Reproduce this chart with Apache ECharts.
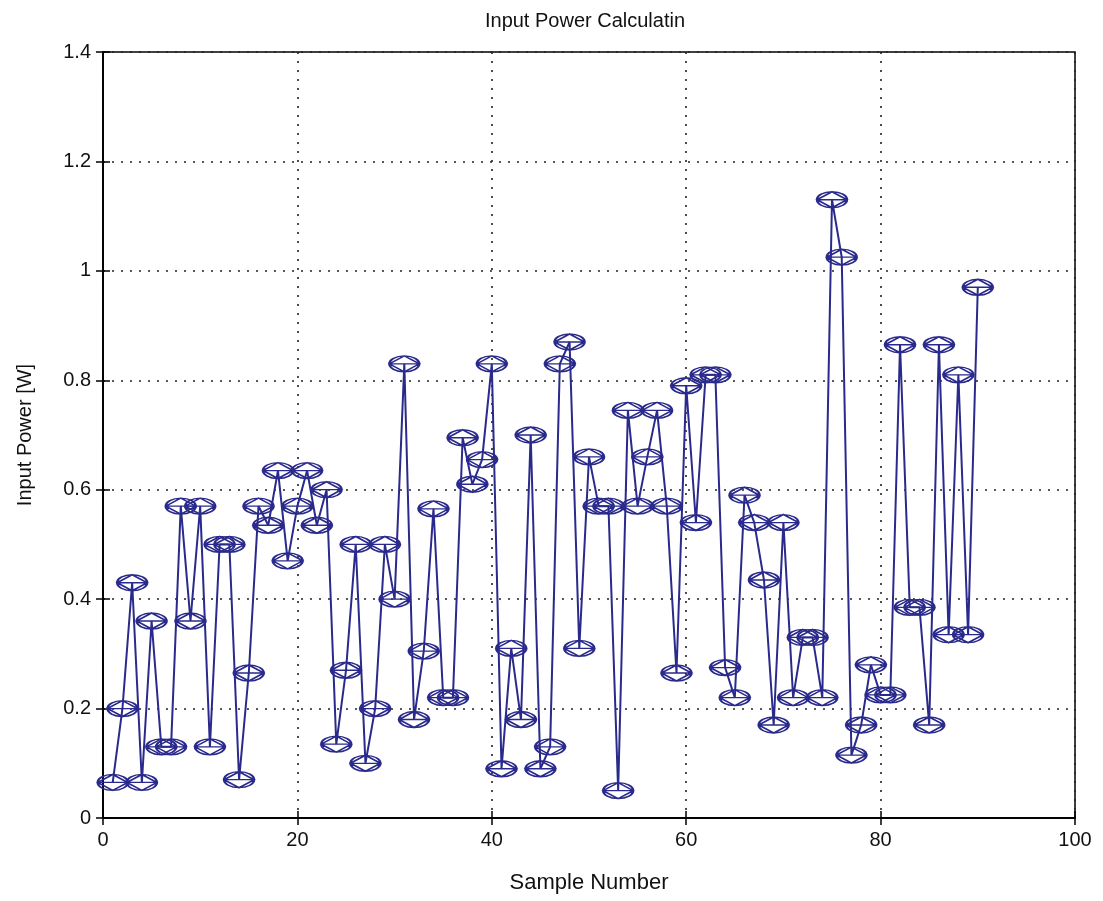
<!DOCTYPE html>
<html>
<head>
<meta charset="utf-8">
<script src="https://cdn.jsdelivr.net/npm/echarts@6/dist/echarts.min.js"></script>
<style>html,body{margin:0;padding:0;background:#fff;}#c{width:1103px;height:901px;}</style>
</head>
<body>
<div id="c"></div>
<script>
const samples = [];
for (let i = 1; i <= 90; i++) samples.push(i);
const power = [
0.065,0.20,0.43,0.065,0.36,0.13,0.13,0.57,0.36,0.57,
0.13,0.50,0.50,0.07,0.265,0.57,0.535,0.635,0.47,0.57,
0.635,0.535,0.60,0.135,0.27,0.50,0.10,0.20,0.50,0.40,
0.83,0.18,0.305,0.565,0.22,0.22,0.695,0.61,0.655,0.83,
0.09,0.31,0.18,0.70,0.09,0.13,0.83,0.87,0.31,0.66,
0.57,0.57,0.05,0.745,0.57,0.66,0.745,0.57,0.265,0.79,
0.54,0.81,0.81,0.275,0.22,0.59,0.54,0.435,0.17,0.54,
0.22,0.33,0.33,0.22,1.13,1.025,0.115,0.17,0.28,0.225,
0.225,0.865,0.385,0.385,0.17,0.865,0.335,0.81,0.335,0.97
];
const titleText = 'Input Power Calculatin';
const xName = 'Sample Number';
const yName = 'Input Power [W]';

const navy = '#2a2a8c';
const font = 'Liberation Sans, Arial, sans-serif';
const chart = echarts.init(document.getElementById('c'));
const data = samples.map((s, i) => [s, power[i]]);
const markerPath = 'path://M0,10 L10,0 L20,10 L10,20 Z M0,10 A10,10 0 1,0 20,10 A10,10 0 1,0 0,10 Z M0,10 L20,10';
const gridLine = {show: true, lineStyle: {color: '#222', type: [2, 7], width: 1.6}};
chart.setOption({
  animation: false,
  backgroundColor: '#fff',
  title: {text: titleText, left: 580, top: 6, textAlign: 'center',
    textStyle: {fontFamily: font, fontWeight: 'normal', fontSize: 20, color: '#111'}},
  grid: {left: 103, right: 28, top: 52, bottom: 83, show: true, borderColor: '#000', borderWidth: 1.5},
  xAxis: [{
    type: 'value', min: 0, max: 100, interval: 20, position: 'bottom',
    name: xName, nameLocation: 'middle', nameGap: 54,
    nameTextStyle: {fontFamily: font, fontSize: 22, color: '#111'},
    axisLine: {show: true, lineStyle: {color: '#000', width: 1.5}},
    axisTick: {show: true, inside: true, length: 7, lineStyle: {color: '#000', width: 1.5}},
    axisLabel: {fontFamily: font, fontSize: 20, color: '#111', margin: 12},
    splitLine: gridLine
  }, {
    type: 'value', min: 0, max: 100, interval: 20, position: 'top',
    axisLine: {show: true, lineStyle: {color: '#000', width: 1.5}},
    axisTick: {show: true, inside: true, length: 7, lineStyle: {color: '#000', width: 1.5}},
    axisLabel: {show: false}, splitLine: {show: false}
  }],
  yAxis: [{
    type: 'value', min: 0, max: 1.4, interval: 0.2, position: 'left',
    name: yName, nameLocation: 'middle', nameGap: 68, nameRotate: 90,
    nameTextStyle: {fontFamily: font, fontSize: 20, color: '#111'},
    axisLine: {show: true, lineStyle: {color: '#000', width: 1.5}},
    axisTick: {show: true, inside: true, length: 7, lineStyle: {color: '#000', width: 1.5}},
    axisLabel: {fontFamily: font, fontSize: 20, color: '#111', margin: 12,
      formatter: v => String(Math.round(v * 10) / 10)},
    splitLine: gridLine
  }, {
    type: 'value', min: 0, max: 1.4, interval: 0.2, position: 'right',
    axisLine: {show: true, lineStyle: {color: '#000', width: 1.5}},
    axisTick: {show: true, inside: true, length: 7, lineStyle: {color: '#000', width: 1.5}},
    axisLabel: {show: false}, splitLine: {show: false}
  }],
  series: [{
    type: 'line', data: data, xAxisIndex: 0, yAxisIndex: 0,
    symbol: markerPath, symbolSize: [30, 16], showAllSymbol: true,
    lineStyle: {color: navy, width: 2},
    itemStyle: {color: 'rgba(255,255,255,0)', borderColor: navy, borderWidth: 1.8}
  }]
});
</script>
</body>
</html>
